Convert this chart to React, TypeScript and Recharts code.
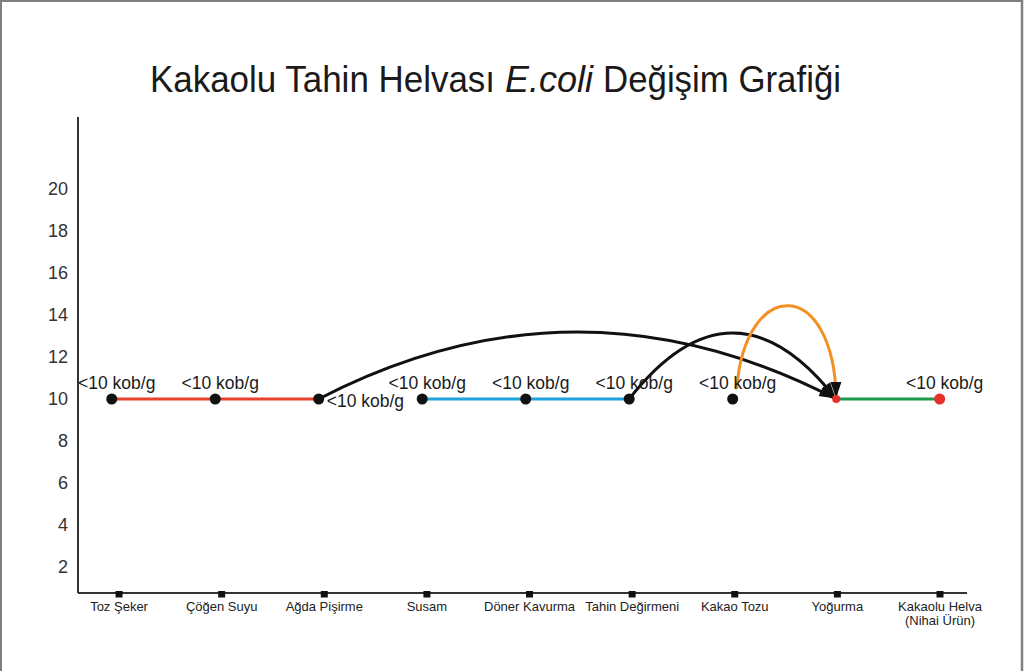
import React from 'react';
import { LineChart, Line, XAxis, YAxis, ReferenceArea, LabelList } from 'recharts';

const categories = [
  'Toz Şeker',
  'Çöğen Suyu',
  'Ağda Pişirme',
  'Susam',
  'Döner Kavurma',
  'Tahin Değirmeni',
  'Kakao Tozu',
  'Yoğurma',
  'Kakaolu Helva\n(Nihai Ürün)',
];

const agdaValues = [10, 10, 10, null, null, null, null, null, null];
const tahinValues = [null, null, null, 10, 10, 10, null, null, null];
const kakaoValues = [null, null, null, null, null, null, 10, null, null];
const helvaValues = [null, null, null, null, null, null, null, 10, 10];

const pointLabels = [
  '<10 kob/g',
  '<10 kob/g',
  '<10 kob/g',
  '<10 kob/g',
  '<10 kob/g',
  '<10 kob/g',
  '<10 kob/g',
  '',
  '<10 kob/g',
];

const yTicks = [2, 4, 6, 8, 10, 12, 14, 16, 18, 20];

const titleParts = ['Kakaolu Tahin Helvası', 'E.coli', 'Değişim Grafiği'];

// Flow arrows: from step -> to step, arc top value
const flowFrom = [2, 5, 6];
const flowTo = [7, 7, 7];
const flowPeak = [13.19, 13.14, 14.38];
const flowColor = ['#111111', '#111111', '#f39024'];
const flowKind = ['arc', 'arc', 'loop'];

const data = categories.map((name, i) => ({
  x: i,
  name,
  agda: agdaValues[i],
  tahin: tahinValues[i],
  kakao: kakaoValues[i],
  helva: helvaValues[i],
  label: pointLabels[i],
}));

const FONT = '"Liberation Sans", Arial, Helvetica, sans-serif';
const sideLabelIndex = categories.indexOf('Ağda Pişirme');

const makePointLabel = (key: string) => (props: any) => {
  const { x, y, value, index } = props;
  const row: any = data[index];
  if (!row || row[key] == null || !value || x == null || y == null || isNaN(y)) return null;
  if (index === sideLabelIndex) {
    return (
      <text x={x + 8} y={y + 8} fontSize={17.5} fill="#1a1a1a" fontFamily={FONT} textAnchor="start">
        {value}
      </text>
    );
  }
  return (
    <text x={x + 5} y={y - 10} fontSize={17.5} fill="#1a1a1a" fontFamily={FONT} textAnchor="middle">
      {value}
    </text>
  );
};

const CategoryTick = (props: any) => {
  const { x, y, payload } = props;
  const lines = String(categories[payload.value] ?? '').split('\n');
  return (
    <g>
      <rect x={x - 3.5} y={y - 2} width={7} height={6.5} fill="#111" />
      <text x={x} y={y + 18} textAnchor="middle" fontSize={13} fill="#222" fontFamily={FONT}>
        {lines.map((l, k) => (
          <tspan key={k} x={x} dy={k === 0 ? 0 : 14}>
            {l}
          </tspan>
        ))}
      </text>
    </g>
  );
};

const makeArrowShape = (k: number) => (props: any) => {
  const { x, y, width, height } = props;
  if ([x, y, width, height].some((v) => v == null || isNaN(v))) return null;
  const x0 = x;
  const x1 = x + width;
  const yb = y + height;
  const h = height;
  let d: string;
  let ux: number;
  let uy: number;
  if (flowKind[k] === 'loop') {
    const cy = yb - (h * 4) / 3;
    d = `M${x0 + 4},${yb - 10} C${x0 + width * 0.12},${cy} ${x1 - width * 0.02},${cy} ${x1},${yb}`;
    ux = width * 0.02;
    uy = yb - cy;
  } else {
    const cx = x0 + width / 2;
    const cy = yb - 2 * h;
    d = `M${x0},${yb} Q${cx},${cy} ${x1},${yb}`;
    ux = x1 - cx;
    uy = yb - cy;
  }
  const n = Math.hypot(ux, uy);
  ux /= n;
  uy /= n;
  const len = 16;
  const half = 5.5;
  const tipX = x1 - ux * 1;
  const tipY = yb - uy * 1;
  const bx = tipX - ux * len;
  const by = tipY - uy * len;
  const pts = `${tipX},${tipY} ${bx - uy * half},${by + ux * half} ${bx + uy * half},${by - ux * half}`;
  return (
    <g>
      <path d={d} fill="none" stroke={flowColor[k]} strokeWidth={3} />
      <polygon points={pts} fill="#111" />
    </g>
  );
};

const helvaDot = (props: any) => {
  const { cx, cy, index } = props;
  if (cy == null || isNaN(cy)) return <g key={index} />;
  return <circle key={index} cx={cx} cy={cy} r={index === 7 ? 4 : 5.5} fill="#e8302a" />;
};

export default function App() {
  return (
    <div style={{ position: 'absolute', left: 0, top: 0, width: 1028, height: 671, background: '#fff' }}>
      <LineChart
        width={1028}
        height={671}
        data={data}
        margin={{ top: 117, right: 61, bottom: 0, left: 0 }}
        style={{ fontFamily: FONT }}
      >
        <XAxis
          xAxisId="pts"
          dataKey="x"
          type="number"
          domain={[-0.326, 8.264]}
          allowDataOverflow
          hide
        />
        <XAxis
          xAxisId="cat"
          dataKey="x"
          type="number"
          domain={[-0.4, 8.263]}
          allowDataOverflow
          ticks={[0, 1, 2, 3, 4, 5, 6, 7, 8]}
          interval={0}
          height={78}
          tickLine={false}
          tickSize={0}
          tickMargin={0}
          axisLine={{ stroke: '#333', strokeWidth: 2 }}
          tick={<CategoryTick />}
        />
        <YAxis
          type="number"
          domain={[0.762, 23.43]}
          allowDataOverflow
          ticks={yTicks}
          interval={0}
          width={78}
          tickLine={false}
          tickSize={0}
          tickMargin={10}
          axisLine={{ stroke: '#333', strokeWidth: 2 }}
          tick={{ fontSize: 18, fill: '#333', fontFamily: FONT }}
        />
        {flowFrom.map((f, k) => (
          <ReferenceArea
            key={k}
            xAxisId="pts"
            x1={f}
            x2={flowTo[k]}
            y1={10}
            y2={flowPeak[k]}
            shape={makeArrowShape(k)}
            ifOverflow="visible"
          />
        ))}
        <Line
          xAxisId="pts"
          dataKey="agda"
          stroke="#e8402c"
          strokeWidth={3}
          dot={{ r: 5.5, fill: '#111', stroke: 'none' }}
          activeDot={false}
          isAnimationActive={false}
        >
          <LabelList dataKey="label" content={makePointLabel('agda')} />
        </Line>
        <Line
          xAxisId="pts"
          dataKey="tahin"
          stroke="#1fa3dc"
          strokeWidth={3}
          dot={{ r: 5.5, fill: '#111', stroke: 'none' }}
          activeDot={false}
          isAnimationActive={false}
        >
          <LabelList dataKey="label" content={makePointLabel('tahin')} />
        </Line>
        <Line
          xAxisId="pts"
          dataKey="kakao"
          stroke="none"
          dot={{ r: 5.5, fill: '#111', stroke: 'none' }}
          activeDot={false}
          isAnimationActive={false}
        >
          <LabelList dataKey="label" content={makePointLabel('kakao')} />
        </Line>
        <Line
          xAxisId="pts"
          dataKey="helva"
          stroke="#1c9a48"
          strokeWidth={3}
          dot={helvaDot}
          activeDot={false}
          isAnimationActive={false}
        >
          <LabelList dataKey="label" content={makePointLabel('helva')} />
        </Line>
      </LineChart>
      <svg
        width={1028}
        height={671}
        style={{ position: 'absolute', left: 0, top: 0, pointerEvents: 'none' }}
      >
        <line x1={1} y1={0} x2={1} y2={671} stroke="#808080" strokeWidth={2} />
        <line x1={0} y1={1} x2={1023} y2={1} stroke="#808080" strokeWidth={2} />
        <line x1={1022} y1={0} x2={1022} y2={671} stroke="#808080" strokeWidth={2.5} />
        <text x={150} y={92} fontSize={36} fill="#1a1a1a" fontFamily={FONT} textLength={345} lengthAdjust="spacingAndGlyphs">
          {titleParts[0]}
        </text>
        <text x={505} y={92} fontSize={36} fontStyle="italic" fill="#1a1a1a" fontFamily={FONT} textLength={88} lengthAdjust="spacingAndGlyphs">
          {titleParts[1]}
        </text>
        <text x={603} y={92} fontSize={36} fill="#1a1a1a" fontFamily={FONT} textLength={238} lengthAdjust="spacingAndGlyphs">
          {titleParts[2]}
        </text>
      </svg>
    </div>
  );
}
